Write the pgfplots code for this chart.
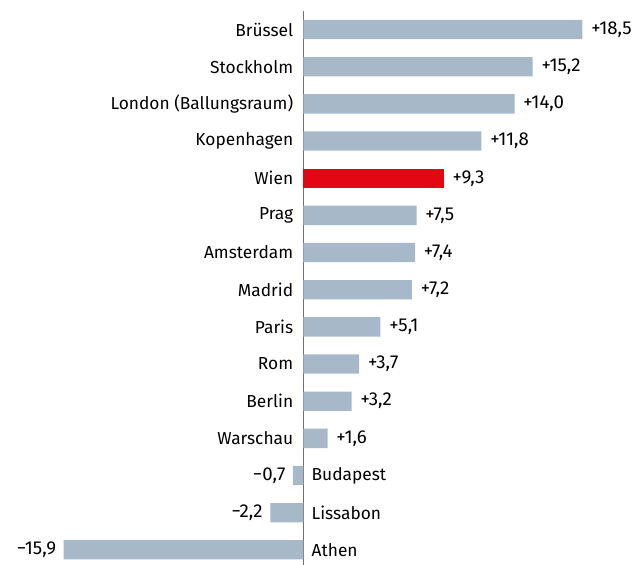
\documentclass[border=0pt]{standalone}
\usepackage{fontspec}
\setmainfont{Fira Sans}
\usepackage{pgfplots}
\usepackage{pgfplotstable}
\pgfplotsset{compat=1.18}
\definecolor{barblue}{RGB}{167,184,200}
\definecolor{wienred}{RGB}{227,6,19}
\definecolor{axisgray}{RGB}{112,112,112}

% positive bars (grey), Wien separately in red
\pgfplotstableread[col sep=comma]{
y,val,lab,name
0,18.5,+18{,}5,Brüssel
1,15.2,+15{,}2,Stockholm
2,14.0,+14{,}0,London (Ballungsraum)
3,11.8,+11{,}8,Kopenhagen
5,7.5,+7{,}5,Prag
6,7.4,+7{,}4,Amsterdam
7,7.2,+7{,}2,Madrid
8,5.1,+5{,}1,Paris
9,3.7,+3{,}7,Rom
10,3.2,+3{,}2,Berlin
11,1.6,+1{,}6,Warschau
}\pos
\pgfplotstableread[col sep=comma]{
y,val,lab,name
4,9.3,+9{,}3,Wien
}\wien
\pgfplotstableread[col sep=comma]{
y,val,lab,name
12,-0.7,−0{,}7,Budapest
13,-2.2,−2{,}2,Lissabon
14,-15.9,−15{,}9,Athen
}\neg

\begin{document}
\begin{tikzpicture}
\begin{axis}[
  scale only axis, width=389pt, height=415.3pt,
  xmin=-15.9, xmax=18.5, ymin=-0.5, ymax=14.4,
  y dir=reverse,
  axis line style={draw=none},
  xtick=\empty, ytick=\empty,
  extra x ticks={0}, extra x tick labels={},
  extra x tick style={grid=major, major tick length=0pt,
    major grid style={axisgray, line width=1.2pt}},
  clip=false,
  every node near coord/.append style={font=\fontsize{13}{15}\selectfont, inner sep=0pt},
  point meta=explicit symbolic,
]
\addplot[xbar, bar shift=0pt, bar width=0.52, fill=barblue, draw=none,
  nodes near coords, nodes near coords style={anchor=west, xshift=6.5pt, font=\fontsize{14}{16}\selectfont}]
  table[x=val, y=y, meta=lab] {\pos};
\addplot[xbar, bar shift=0pt, bar width=0.52, fill=wienred, draw=none,
  nodes near coords, nodes near coords style={anchor=west, xshift=6.5pt, font=\fontsize{14}{16}\selectfont}]
  table[x=val, y=y, meta=lab] {\wien};
\addplot[xbar, bar shift=0pt, bar width=0.52, fill=barblue, draw=none,
  nodes near coords, nodes near coords style={anchor=east, xshift=-5.5pt, font=\fontsize{14}{16}\selectfont}]
  table[x=val, y=y, meta=lab] {\neg};
% category names beside the axis line
\addplot[only marks, mark=none, nodes near coords,
  nodes near coords style={anchor=east, xshift=-7.5pt}]
  table[x expr=0, y=y, meta=name] {\pos};
\addplot[only marks, mark=none, nodes near coords,
  nodes near coords style={anchor=east, xshift=-7.5pt}]
  table[x expr=0, y=y, meta=name] {\wien};
\addplot[only marks, mark=none, nodes near coords,
  nodes near coords style={anchor=west, xshift=6pt}]
  table[x expr=0, y=y, meta=name] {\neg};
\end{axis}
\pgfresetboundingbox
\path ([xshift=-47.8pt]current axis.south west) rectangle ([xshift=41pt,yshift=8.25pt]current axis.north east);
\end{tikzpicture}
\end{document}
